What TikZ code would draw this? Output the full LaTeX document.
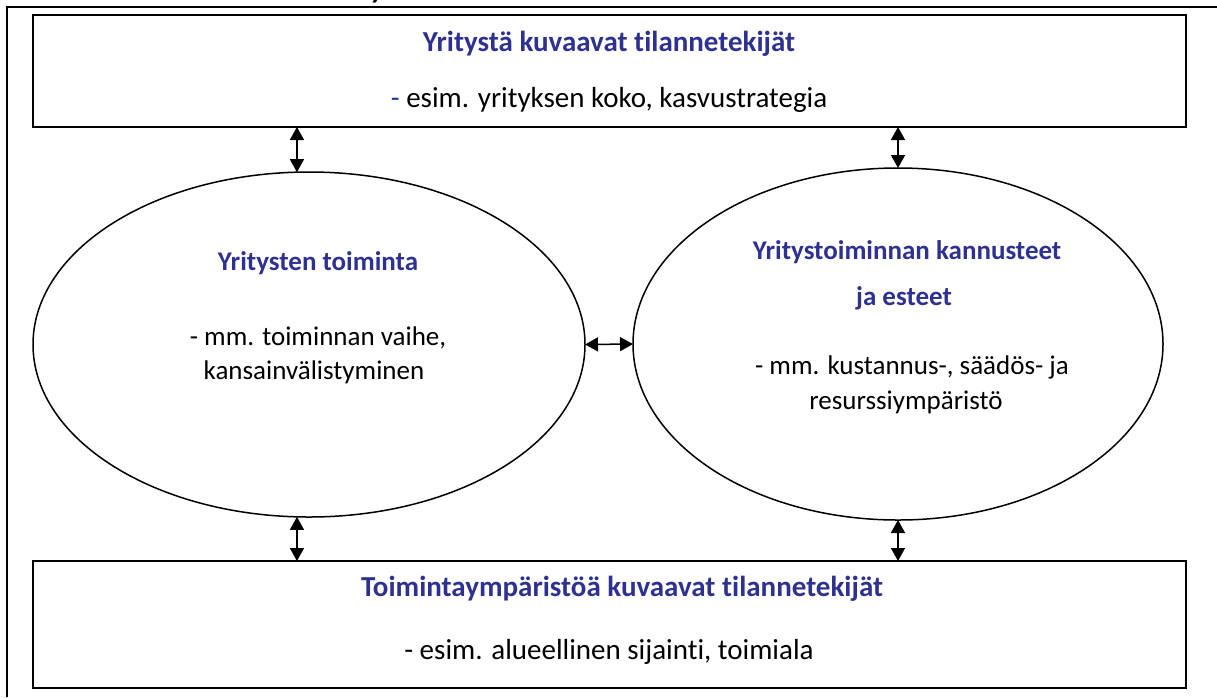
\documentclass[tikz,border=0pt]{standalone}
\usepackage{fontspec}
\setmainfont{Carlito}[Ligatures=NoCommon]
\usetikzlibrary{shapes.geometric,arrows.meta}
\definecolor{titleblue}{RGB}{46,49,146}
\tikzset{
  factorbox/.style={draw, line width=1.8pt, rectangle, inner sep=0pt, outer sep=0pt},
  actell/.style={draw, line width=1.5pt, ellipse, inner sep=0pt, outer sep=0pt},
  titletext/.style={font=\fontsize{29}{34}\selectfont\bfseries, text=titleblue},
  desctext/.style={font=\fontsize{29}{34}\selectfont, text=black},
  elltitle/.style={font=\fontsize{27}{32}\selectfont\bfseries, text=titleblue},
  elltext/.style={font=\fontsize{27}{32}\selectfont, text=black},
  linkarrow/.style={{Triangle[length=13pt,width=14pt]}-{Triangle[length=13pt,width=14pt]}, line width=1.5pt}
}
\begin{document}
\begin{tikzpicture}[x=1pt,y=-1pt]
\useasboundingbox (0,0) rectangle (1217,697);
% outer frame (open on the right and bottom)
\draw[line width=2.2pt] (7,697) -- (7,7) -- (1217,7);
\node[font=\fontsize{29}{34}\selectfont\bfseries\itshape, anchor=base] (cutoff) at (378,-1.5) {y};

% top box
\node[factorbox, minimum width=1153pt, minimum height=112pt] (firm) at (609.5,71) {};
\node[titletext] (firmtitle) at (609,44) {Yritystä kuvaavat tilannetekijät};
\node[desctext] (firmdesc) at (609,100) {\textcolor{titleblue}{-} esim. yrityksen koko, kasvustrategia};

% bottom box
\node[factorbox, minimum width=1153pt, minimum height=127pt] (env) at (609.5,624.5) {};
\node[titletext] (envtitle) at (622,589) {Toimintaympäristöä kuvaavat tilannetekijät};
\node[desctext] (envdesc) at (609,652) {- esim. alueellinen sijainti, toimiala};

% left ellipse
\node[actell, minimum width=552pt, minimum height=345pt] (act) at (309,344.5) {};
\node[elltitle] (acttitle) at (318,263) {Yritysten toiminta};
\node[elltext] (actdesc1) at (318,338) {- mm. toiminnan vaihe,};
\node[elltext] (actdesc2) at (314,372) {kansainvälistyminen};

% right ellipse
\node[actell, minimum width=530pt, minimum height=352pt] (inc) at (898,344) {};
\node[elltitle] (inctitle1) at (907,252) {Yritystoiminnan kannusteet};
\node[elltitle] (inctitle2) at (904,298) {ja esteet};
\node[elltext] (incdesc1) at (912,367) {- mm. kustannus-, säädös- ja};
\node[elltext] (incdesc2) at (906,402) {resurssiympäristö};

% links
\draw[linkarrow] (act.94) -- (act.94 |- firm.south);
\draw[linkarrow] (inc.north) -- (inc.north |- firm.south);
\draw[linkarrow] (act.-94) -- (act.-94 |- env.north);
\draw[linkarrow] (inc.south) -- (inc.south |- env.north);
\draw[linkarrow] (act.east) -- (inc.west);
\end{tikzpicture}
\end{document}
